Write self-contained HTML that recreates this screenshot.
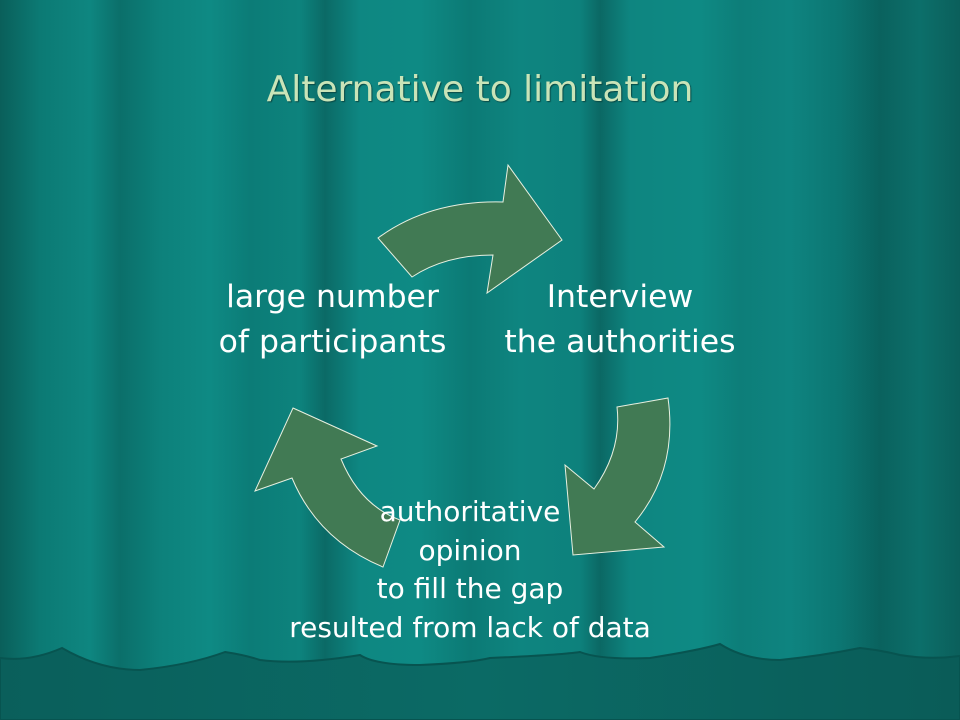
<!DOCTYPE html>
<html><head><meta charset="utf-8"><style>
html,body{margin:0;padding:0}
body{width:960px;height:720px;overflow:hidden;position:relative;font-family:"DejaVu Sans","Liberation Sans",sans-serif;
background:linear-gradient(90deg,#0a5f5a 0px,#0c7a74 40px,#0e8680 90px,#0b6f6a 120px,#0d817b 160px,#0e8a84 210px,#0c7c77 250px,#0d837d 300px,#0b6a66 325px,#0e8782 360px,#0e8a84 420px,#0c7a75 470px,#0e8580 520px,#0d817c 580px,#0b6864 600px,#0e8580 630px,#0e8a84 700px,#0d7e79 740px,#0e8480 790px,#0c7672 840px,#0a625e 880px,#0c6f6a 920px,#0b5f5b 960px);}
.t{position:absolute;color:#fff;text-align:center;font-size:31.5px;line-height:45px;white-space:nowrap}
</style></head><body>
<svg width="960" height="720" style="position:absolute;left:0;top:0">
<defs><linearGradient id="b" x1="0" x2="1"><stop offset="0" stop-color="#0a5f5b"/><stop offset="0.5" stop-color="#0b6a65"/><stop offset="1" stop-color="#0a5c58"/></linearGradient></defs>
<path d="M0 658 Q30 662 62 648 Q100 670 140 670 Q190 665 225 652 Q245 655 260 660 Q300 665 360 655 Q375 665 420 665 Q470 663 490 658 Q560 655 580 652 Q600 660 650 658 Q700 650 720 644 Q745 660 780 660 Q820 656 860 648 Q880 650 900 655 Q930 660 960 656 L960 720 L0 720 Z" fill="url(#b)" stroke="#075450" stroke-width="2"/>
<g fill="#417a54" stroke="#e8f0e0" stroke-width="1">
<path d="M378 238 Q430 200 503 202 L508 165 L562 240 L487 293 L493 255 Q445 255 412 277 Z"/>
<path d="M617 407 L668 398 Q678 470 635 522 L664 547 L573 555 L565 465 L594 489 Q622 450 617 407 Z"/>
<path d="M293 408 L377 446 L341 459 Q360 505 400 520 L383 567 Q318 540 292 478 L255 491 Z"/>
</g>
</svg>
<div class="t" style="left:0;width:960px;top:66px;font-size:36px;color:#c9e4b8;line-height:48px;text-shadow:1px 1px 1px #0a4a46">Alternative to limitation</div>
<div class="t" style="left:195px;width:275px;top:275px">large number<br>of participants</div>
<div class="t" style="left:485px;width:270px;top:275px">Interview<br>the authorities</div>
<div class="t" style="left:270px;width:400px;top:493px;font-size:28px;line-height:38.5px">authoritative<br>opinion<br>to fill the gap<br>resulted from lack of data</div>
</body></html>
